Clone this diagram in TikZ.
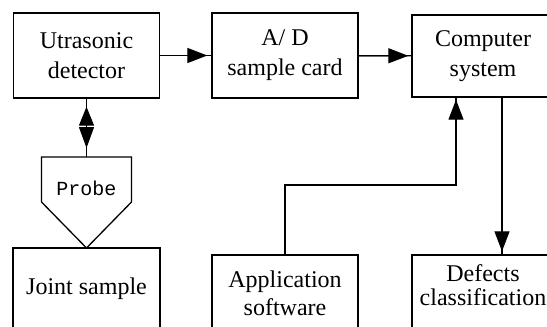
\documentclass[tikz,border=0pt]{standalone}
\usepackage{fontspec}
\setmainfont{Liberation Serif}
\newfontfamily\probefont{Liberation Mono}
\usetikzlibrary{arrows.meta}
\begin{document}
\begin{tikzpicture}[x=1pt,y=-1pt,line width=1.3pt,
  box/.style={draw,line width=1.4pt,minimum width=146pt,align=center,inner sep=0pt,
    font=\fontsize{24}{30}\selectfont},
  txt/.style={align=center,inner sep=0pt,font=\fontsize{24}{28}\selectfont},
  head/.style={-{Triangle[length=20pt,width=15pt]}},
  dhead/.style={{Triangle[length=19pt,width=15pt]}-{Triangle[length=21pt,width=15pt]}}]
\useasboundingbox (0,0) rectangle (547,327);
\clip (0,0) rectangle (547,327);
% top row
\node[box,minimum height=85pt] (ut) at (86.5,55.5) {Utrasonic\\detector};
\node[box,minimum height=85pt] (ad) at (285,55.5) {A/ D\\sample card};
\node[box,minimum width=142pt,minimum height=82pt] (cs) at (483,56) {Computer\\system};
% bottom row
\node[box,minimum width=147pt,minimum height=82pt] (js) at (86.5,289) {Joint sample};
\node[box,minimum height=80pt] (app) at (285,295) {};
\node[txt] (apptext) at (285,293) {Application\\software};
\node[box,minimum width=142pt,minimum height=80pt] (def) at (483,295) {};
\node[txt,font=\fontsize{24}{24}\selectfont] (deftext) at (483,285) {Defects\\classification};
% probe
\coordinate (p1) at (41.5,157);
\coordinate (p2) at (131.5,157);
\coordinate (p3) at (131.5,202);
\coordinate (p4) at (86.5,248);
\coordinate (p5) at (41.5,202);
\coordinate (probetop) at (86.5,157);
\draw (p1) -- (p2) -- (p3) -- (p4) -- (p5) -- cycle;
\node[inner sep=0pt,font=\probefont\fontsize{20}{20}\selectfont] (probe) at (86.5,188) {Probe};
% connectors
\draw (ut) -- (ad);
\draw[head,shorten >=4pt] (ut) -- (ad);
\draw (ad) -- (cs);
\draw[head,shorten >=3pt] (ad) -- (cs);
\draw (ut.south) -- (probetop);
\draw[dhead,shorten <=8pt,shorten >=9pt] (ut.south) -- (probetop);
\coordinate (bend) at (456,185);
\draw (app.north) |- (bend) -- (bend |- cs.south);
\draw[head,shorten >=2pt] (bend) -- (bend |- cs.south);
\coordinate (dx) at (502,0);
\draw (cs.south -| dx) -- (def.north -| dx);
\draw[head,shorten >=3pt] (cs.south -| dx) -- (def.north -| dx);
\end{tikzpicture}
\end{document}
